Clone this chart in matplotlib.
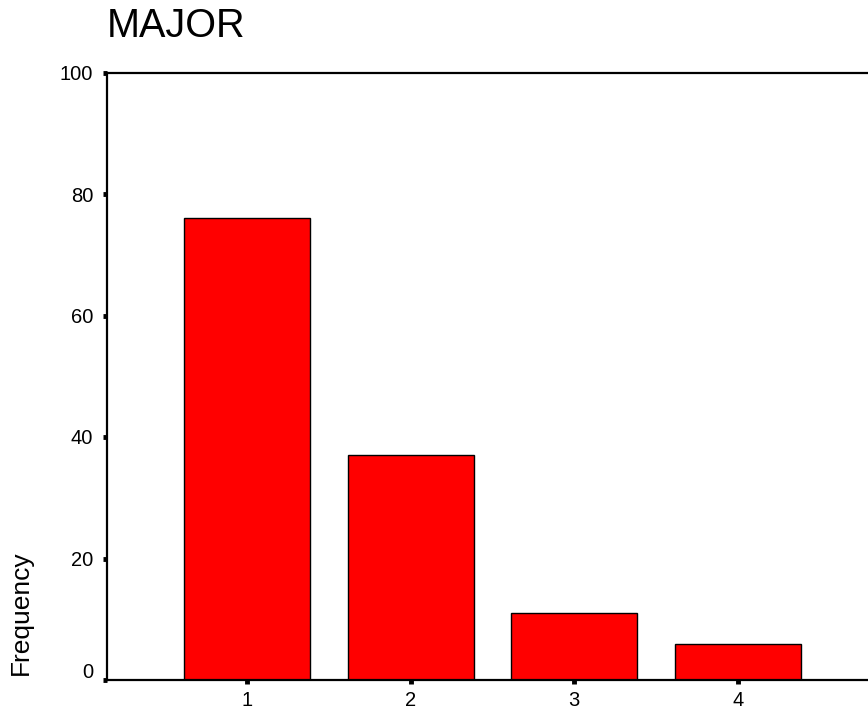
import matplotlib
matplotlib.use("Agg")
import matplotlib.pyplot as plt
from matplotlib.transforms import ScaledTranslation

categories = [1, 2, 3, 4]
frequencies = [76, 37, 11, 6]
yticks = [0, 20, 40, 60, 80, 100]

plt.rcParams['font.family'] = ['Liberation Sans', 'DejaVu Sans']

fig = plt.figure(figsize=(8.68, 7.17), dpi=100)
W, H = 868, 717
left, right, top, bottom = 107, 868, 72.5, 680
ax = fig.add_axes([left / W, (H - bottom) / H, (right - left) / W, (bottom - top) / H])

ax.bar(categories, frequencies, width=0.77, color='#ff0000', edgecolor='black', linewidth=1.0, zorder=2)
ax.set_xlim(0.144, 4.797)
ax.set_ylim(0, 100)
ax.set_xticks(categories)
ax.set_xticklabels([str(c) for c in categories])
ax.set_yticks(yticks)
ax.set_yticklabels([str(t) for t in yticks])

for s in ['left', 'bottom', 'top']:
    ax.spines[s].set_linewidth(1.6)
    ax.spines[s].set_color('black')
ax.spines['right'].set_visible(False)
ax.tick_params(axis='both', direction='out', length=3, width=3.5, labelsize=14.5, colors='black')
ax.tick_params(axis='y', pad=7)
ax.tick_params(axis='x', pad=5)

# the "0" label sits slightly above its tick in the reference
zero_lbl = ax.get_yticklabels()[0]
zero_lbl.set_transform(zero_lbl.get_transform() + ScaledTranslation(0, 9 / 100, fig.dpi_scale_trans))

fig.text(21 / W, 1 - 612.5 / H, 'Frequency', fontsize=19, rotation=90, ha='center', va='center')
fig.text(107 / W, 1 - 37 / H, 'MAJOR', fontsize=28.5, ha='left', va='baseline')

fig.savefig('out.png', dpi=100)
